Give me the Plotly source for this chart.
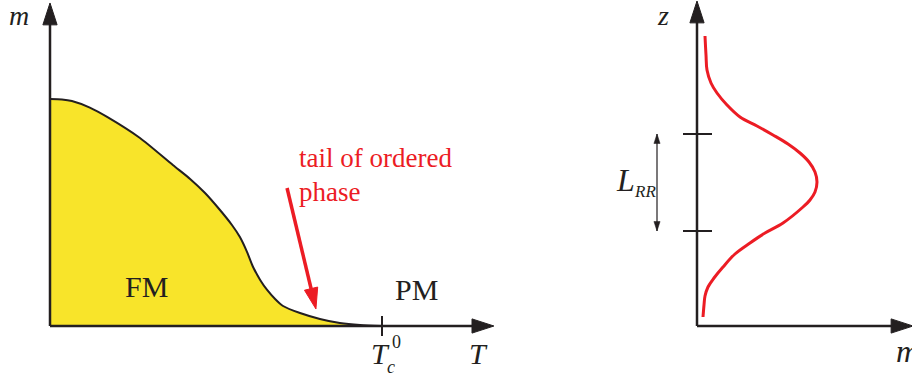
import plotly.graph_objects as go

# left panel: order parameter m versus temperature T (T in units of Tc0)
T_vals = [0.0, 0.036, 0.066, 0.120, 0.172, 0.271, 0.370, 0.422, 0.467,
          0.512, 0.548, 0.572, 0.593, 0.611, 0.633, 0.654, 0.678, 0.702,
          0.753, 0.813, 0.873, 0.934, 1.0]
m_vals = [1.0, 0.998, 0.991, 0.962, 0.921, 0.828, 0.709, 0.648, 0.586,
          0.511, 0.445, 0.392, 0.328, 0.262, 0.203, 0.159, 0.119, 0.088,
          0.057, 0.031, 0.013, 0.004, 0.0]

# right panel: magnetisation profile m(z)
prof_m = [8, 9, 10, 14, 20, 30, 43, 60, 76, 91, 103, 112, 118, 120, 118, 113,
          106, 86, 68, 53, 38, 26, 17, 11, 8, 7, 6]
prof_z = [290, 271, 256, 243, 233, 221, 209, 200, 191, 182, 173, 164, 154, 144,
          134, 126, 119, 103, 93, 83, 72, 59, 48, 39, 30, 21, 9]
rr_ticks = [95, 192]

W, H = 912, 375
BLACK = "#231F20"
RED = "#EC1C24"
YELLOW = "#F8E42A"
SERIF = "Liberation Serif"


def px(x):
    return x / W


def py(y):
    return 1 - y / H


fig = go.Figure()

# yellow FM region
fig.add_trace(go.Scatter(
    x=T_vals, y=m_vals, mode="lines", fill="tozeroy", fillcolor=YELLOW,
    line=dict(color=BLACK, width=2, shape="spline", smoothing=0.7),
    xaxis="x", yaxis="y",
))


def arrow_line(x, y, color, width, size, axes):
    fig.add_trace(go.Scatter(
        x=x, y=y, mode="lines+markers",
        line=dict(color=color, width=width, backoff=size * 0.5),
        marker=dict(symbol="arrow", size=[0, size], color=color, opacity=1,
                    angleref="previous", line=dict(width=1, color=color)),
        xaxis=axes[0], yaxis=axes[1],
    ))


# left axes
arrow_line([0, 0], [0, 1.423], BLACK, 2.5, 23, ("x", "y"))
arrow_line([0, 1.337], [0, 0], BLACK, 2.5, 23, ("x", "y"))
# Tc0 tick
fig.add_trace(go.Scatter(x=[1, 1], y=[0.044, -0.044], mode="lines",
                         line=dict(color=BLACK, width=2), xaxis="x", yaxis="y"))
# red arrow to the tail
arrow_line([0.714, 0.801], [0.608, 0.075], RED, 3.5, 22, ("x", "y"))

# right axes
arrow_line([0, 0], [0, 325], BLACK, 2.5, 23, ("x2", "y2"))
arrow_line([0, 216], [0, 0], BLACK, 2.5, 23, ("x2", "y2"))
# ticks on z axis
fig.add_trace(go.Scatter(
    x=[-14, 15, None, -14, 15], y=[rr_ticks[0], rr_ticks[0], None, rr_ticks[1], rr_ticks[1]],
    mode="lines", line=dict(color=BLACK, width=2), xaxis="x2", yaxis="y2"))
# L_RR double arrow
fig.add_trace(go.Scatter(x=[-40, -40], y=rr_ticks, mode="lines",
                         line=dict(color=BLACK, width=1.2), xaxis="x2", yaxis="y2"))
fig.add_trace(go.Scatter(
    x=[-40, -40], y=[rr_ticks[1], rr_ticks[0]], mode="markers",
    marker=dict(symbol="arrow", size=10, angle=[0, 180], color=BLACK,
                line=dict(width=0.5, color=BLACK)),
    xaxis="x2", yaxis="y2"))
# profile
fig.add_trace(go.Scatter(
    x=prof_m, y=prof_z, mode="lines",
    line=dict(color=RED, width=3, shape="spline", smoothing=1.0),
    xaxis="x2", yaxis="y2"))


def label(text, x, y, size, color=BLACK, italic=False, anchor="center"):
    fig.add_annotation(
        x=px(x), y=py(y), xref="paper", yref="paper", text=text, showarrow=False,
        xanchor=anchor, yanchor="middle",
        font=dict(family=SERIF, size=size, color=color,
                  style="italic" if italic else "normal"),
    )


label("m", 19, 16, 28, italic=True)
label("FM", 146, 286, 30)
label("PM", 416, 289, 30)
label("tail of ordered", 297, 158, 27, color=RED, anchor="left")
label("phase", 297, 192, 27, color=RED, anchor="left")
label("T", 380, 353, 30, italic=True)
label("0", 396, 342, 18)
label("c", 391, 367, 18, italic=True)
label("T", 478, 353, 30, italic=True)
label("z", 663, 16, 28, italic=True)
label("m", 894, 351, 32, italic=True, anchor="left")
label("L", 625, 180, 32, italic=True)
label("RR", 645, 191, 17, italic=True)

fig.update_layout(
    width=W, height=H, margin=dict(l=0, r=0, t=0, b=0),
    paper_bgcolor="white", plot_bgcolor="white", showlegend=False,
    xaxis=dict(range=[-50 / 332, 862 / 332], domain=[0, 1], visible=False, fixedrange=True),
    yaxis=dict(range=[-49 / 227, 326 / 227], domain=[0, 1], visible=False, fixedrange=True),
    xaxis2=dict(range=[-697, 215], domain=[0, 1], anchor="y2", overlaying="x",
                visible=False, fixedrange=True),
    yaxis2=dict(range=[-49, 326], domain=[0, 1], anchor="x2", overlaying="y",
                visible=False, fixedrange=True),
)

fig.write_html("out.html", config={"displayModeBar": False},
               post_script="document.body.style.margin='0';")
